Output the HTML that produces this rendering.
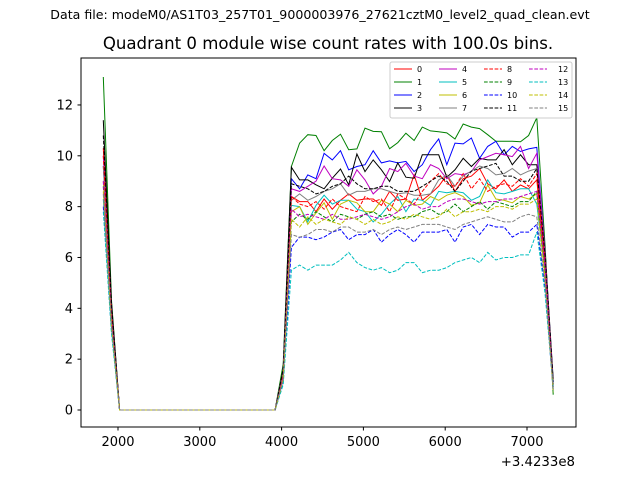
<!DOCTYPE html>
<html><head><meta charset="utf-8"><style>
body{margin:0;background:#fff;font-family:"Liberation Sans",sans-serif}
svg text{font-family:"DejaVu Sans","Liberation Sans",sans-serif}
</style></head><body>
<svg id="chart" width="640" height="480" xmlns="http://www.w3.org/2000/svg">
<rect width="640" height="480" fill="#fff"/>
<text x="320" y="19" font-size="12.6" text-anchor="middle">Data file: modeM0/AS1T03_257T01_9000003976_27621cztM0_level2_quad_clean.evt</text>
<text x="328" y="49" font-size="16.6" text-anchor="middle">Quadrant 0 module wise count rates with 100.0s bins.</text>
<g id="plot"></g>
<rect x="81" y="58" width="495" height="369" fill="none" stroke="#000" stroke-width="1"/>
<text x="575" y="466" font-size="13.3" text-anchor="end">+3.4233e8</text>
<g id="legend"></g>
</svg>
<script>
const times = [1820,1920,2020,2120,2220,2320,2420,2520,2620,2720,2820,2920,3020,3120,3220,3320,3420,3520,3620,3720,3820,3920,4020,4120,4220,4320,4420,4520,4620,4720,4820,4920,5020,5120,5220,5320,5420,5520,5620,5720,5820,5920,6020,6120,6220,6320,6420,6520,6620,6720,6820,6920,7020,7120,7220,7320];
const quietRate = [0,0,0,0,0,0,0,0,0,0,0,0,0,0,0,0,0,0,0,0];
const startRates = [[10.3,4.0],[13.1,4.3],[9.6,3.8],[11.4,4.2],[10.0,3.9],[8.3,3.2],[9.0,3.5],[9.6,3.7],[10.0,3.9],[8.8,3.4],[8.0,3.1],[10.8,4.1],[9.0,3.5],[7.8,3.0],[8.6,3.3],[8.5,3.3]];
const riseRates = [1.4,1.8,1.5,1.6,1.5,1.2,1.3,1.5,1.4,1.3,1.1,1.6,1.3,1.0,1.2,1.2];
const endRates = [[5.8,1.0],[6.5,0.6],[6.2,1.1],[6.3,1.2],[6.2,1.0],[5.4,0.9],[5.3,1.0],[6.0,1.0],[5.9,0.9],[5.4,0.8],[4.8,0.8],[6.1,1.1],[5.6,0.8],[4.6,0.9],[5.2,0.7],[5.0,0.8]];
const active0 = [8.4,8.2,8.2,7.8,8.3,7.9,8.25,8.5,8.25,8.3,8.3,8.05,8.6,8.25,8.3,9.25,8.25,8.5,8.8,9.25,8.6,9.1,9.2,9.5,8.9,8.7,9.05,8.6,8.85,8.7,9.05];
const active1 = [9.58,10.5,10.83,10.8,10.2,10.6,10.85,10.24,10.27,11.09,10.96,10.95,10.28,10.52,10.89,10.6,11.13,10.98,10.95,10.9,10.66,11.25,11.13,11.07,10.83,10.57,10.57,10.57,10.55,10.8,11.5];
const active2 = [9.1,8.7,9.25,9.1,10.1,9.84,10.2,9.45,9.58,9.65,10.2,9.72,9.8,9.72,9.78,9.38,9.65,10.24,10.66,9.65,10.5,10.47,10.7,9.9,10.37,10.57,10.04,10.37,10.17,10.27,10.33];
const active3 = [9.55,9.05,9.05,8.86,8.7,9.12,9.48,8.86,10.07,9.38,9.84,9.45,8.99,9.72,9.16,9.12,10.04,10.04,10.04,9.16,9.45,9.9,9.58,9.9,9.84,9.84,10.24,9.65,10.04,9.65,9.65];
const active4 = [8.7,8.6,8.8,9.0,9.6,9.1,9.05,8.8,9.45,9.05,8.5,8.8,9.5,9.38,9.7,9.2,9.1,9.65,9.5,9.1,9.3,9.25,9.38,9.84,9.97,10.1,10.04,9.97,10.37,9.5,10.1];
const active5 = [8.05,8.0,7.4,8.05,8.45,8.1,8.25,8.25,7.9,7.8,7.4,7.7,8.1,8.4,7.8,8.3,8.25,8.05,8.6,8.55,8.6,8.55,8.25,8.4,9.05,8.55,8.5,8.6,8.7,8.7,8.1];
const active6 = [7.8,8.0,7.3,7.75,8.15,7.5,8.1,8.25,8.15,7.8,7.8,8.25,8.1,7.8,8.25,8.05,8.1,8.4,8.25,8.45,8.55,8.4,8.05,8.15,8.85,8.3,8.25,8.15,8.4,8.3,8.5];
const active7 = [8.25,8.5,8.25,8.4,8.6,8.7,8.9,8.45,8.6,8.6,8.7,8.7,8.6,8.5,8.55,8.45,8.45,8.5,9.05,9.25,8.8,9.2,9.4,9.6,9.5,9.25,9.3,9.5,9.25,9.4,9.5];
const active8 = [8.4,8.1,8.0,8.2,7.9,8.3,8.0,7.9,7.8,8.4,8.2,8.3,7.8,8.5,8.3,8.1,8.6,9.0,9.3,8.9,8.8,9.3,8.7,9.1,8.6,8.8,8.9,8.8,9.1,8.8,9.3];
const active9 = [7.4,7.7,7.5,7.8,7.6,7.4,7.7,7.6,7.5,7.7,7.8,7.6,7.7,7.5,7.6,7.6,7.8,7.9,7.7,7.8,8.1,7.8,8.0,8.2,7.9,8.2,8.1,8.0,8.2,8.2,8.6];
const active10 = [6.4,6.8,6.8,6.7,6.8,7.0,7.1,6.7,6.9,6.9,7.1,6.6,6.9,7.1,6.9,6.6,7.0,7.0,7.0,7.1,6.6,7.2,7.3,6.9,7.3,7.2,7.2,6.8,7.0,7.0,7.3];
const active11 = [8.9,8.8,8.7,8.5,8.6,8.8,8.9,9.2,8.9,8.7,8.7,8.8,8.8,8.6,8.6,8.6,8.8,9.0,9.2,9.0,8.6,9.0,9.4,9.5,9.6,9.7,9.2,9.2,9.0,9.0,9.5];
const active12 = [7.9,7.6,7.7,7.6,7.5,7.7,7.5,7.5,7.6,7.7,7.6,7.5,7.6,7.8,8.0,8.1,7.9,8.0,8.0,8.2,8.3,8.3,8.2,8.1,8.2,8.2,8.3,8.3,8.4,8.5,8.6];
const active13 = [5.5,5.7,5.5,5.7,5.7,5.7,5.9,6.2,5.8,5.6,5.5,5.6,5.4,5.5,5.8,5.8,5.4,5.5,5.5,5.6,5.8,5.9,6.0,5.8,6.2,5.9,6.0,6.0,6.1,6.1,7.0];
const active14 = [7.5,7.2,7.6,7.3,7.5,7.4,7.3,7.6,7.5,7.3,7.5,7.3,7.4,7.6,7.5,7.7,7.6,7.5,7.6,7.9,7.6,7.8,7.8,7.9,7.8,8.0,8.0,7.9,8.1,8.1,8.3];
const active15 = [6.9,6.8,6.9,7.1,7.1,7.0,7.2,7.2,7.0,7.0,7.1,6.9,7.1,7.2,7.1,7.2,7.3,7.3,7.3,7.2,7.1,7.3,7.4,7.5,7.6,7.5,7.4,7.4,7.6,7.7,7.6];
const activeRates = [active0,active1,active2,active3,active4,active5,active6,active7,active8,active9,active10,active11,active12,active13,active14,active15];
const seriesLabels = ["0","1","2","3","4","5","6","7","8","9","10","11","12","13","14","15"];
const xTicks = [2000,3000,4000,5000,6000,7000];
const yTicks = [0,2,4,6,8,10,12];

const colors = ["#ff0000","#008000","#0000ff","#000000","#bf00bf","#00bfbf","#bfbf00","#808080"];
const NS = "http://www.w3.org/2000/svg";
const xs = t => 118 + (t - 2000) * 0.0818;
const ys = v => 410 - v * 25.42;
const plot = document.getElementById("plot");
const svg = document.getElementById("chart");

xTicks.forEach(t => {
  const l = document.createElementNS(NS, "line");
  l.setAttribute("x1", xs(t)); l.setAttribute("x2", xs(t));
  l.setAttribute("y1", 427); l.setAttribute("y2", 430.5);
  l.setAttribute("stroke", "#000");
  
  
  svg.appendChild(l);
  const tx = document.createElementNS(NS, "text");
  tx.setAttribute("x", xs(t)); tx.setAttribute("y", 446);
  tx.setAttribute("font-size", "13"); tx.setAttribute("text-anchor", "middle");
  tx.textContent = t;
  
  
  svg.appendChild(tx);
});
yTicks.forEach(v => {
  const l = document.createElementNS(NS, "line");
  l.setAttribute("x1", 77.5); l.setAttribute("x2", 81);
  l.setAttribute("y1", ys(v)); l.setAttribute("y2", ys(v));
  l.setAttribute("stroke", "#000");
  
  
  svg.appendChild(l);
  const tx = document.createElementNS(NS, "text");
  tx.setAttribute("x", 73); tx.setAttribute("y", ys(v) + 4.5);
  tx.setAttribute("font-size", "13"); tx.setAttribute("text-anchor", "end");
  tx.textContent = v;
  
  
  svg.appendChild(tx);
});

activeRates.forEach((act, i) => {
  const vals = startRates[i].concat(quietRate, [riseRates[i]], act, endRates[i]);
  const pts = vals.map((v, k) => xs(times[k]).toFixed(1) + "," + ys(v).toFixed(1)).join(" ");
  const p = document.createElementNS(NS, "polyline");
  p.setAttribute("points", pts);
  p.setAttribute("fill", "none");
  p.setAttribute("stroke", colors[i % 8]);
  p.setAttribute("stroke-width", "1");
  if (i >= 8) p.setAttribute("stroke-dasharray", "3.7,1.6");
  
  
  plot.appendChild(p);
});

const lg = document.getElementById("legend");
const box = document.createElementNS(NS, "rect");
box.setAttribute("x", 390); box.setAttribute("y", 62); box.setAttribute("width", 182); box.setAttribute("height", 56);
box.setAttribute("rx", 2); box.setAttribute("fill", "#fff"); box.setAttribute("fill-opacity", "0.8"); box.setAttribute("stroke", "#ccc");


lg.appendChild(box);
const colX = [394, 439, 484, 529];
seriesLabels.forEach((lab, i) => {
  const c = Math.floor(i / 4), r = i % 4;
  const y = 69 + r * 13;
  const l = document.createElementNS(NS, "line");
  l.setAttribute("x1", colX[c]); l.setAttribute("x2", colX[c] + 18);
  l.setAttribute("y1", y); l.setAttribute("y2", y);
  l.setAttribute("stroke", colors[i % 8]);
  if (i >= 8) l.setAttribute("stroke-dasharray", "3.7,1.6");
  
  
  lg.appendChild(l);
  const tx = document.createElementNS(NS, "text");
  tx.setAttribute("x", colX[c] + (i >= 12 ? 29 : 23)); tx.setAttribute("y", y + 3);
  tx.setAttribute("font-size", "8");
  tx.textContent = lab;
  
  
  lg.appendChild(tx);
});
</script>
</body></html>
